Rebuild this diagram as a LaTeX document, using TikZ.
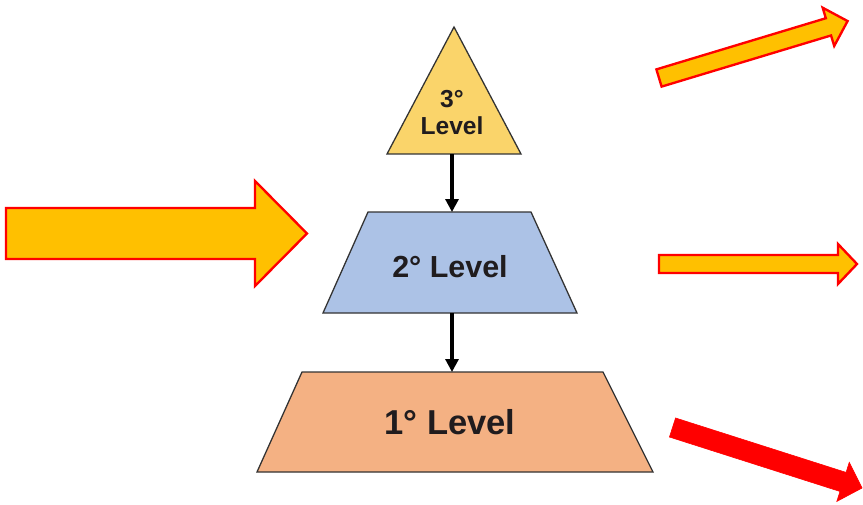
\documentclass[tikz,border=0pt]{standalone}
\usepackage{fontspec}
\setmainfont{Liberation Sans}
\usetikzlibrary{arrows.meta,shapes.geometric}
\definecolor{levelgold}{RGB}{250,212,106}
\definecolor{levelblue}{RGB}{172,194,230}
\definecolor{levelpeach}{RGB}{244,177,131}
\definecolor{amberfill}{RGB}{255,192,0}
\definecolor{edgered}{RGB}{255,0,0}
\definecolor{inkdark}{RGB}{32,28,30}

\begin{document}
\begin{tikzpicture}[
  x=0.03cm, y=-0.03cm,
  % ── level shapes ─────────────────────────────────────────────────────────
  apexlevel/.style={
    draw=black!80, line width=1.1pt, fill=levelgold,
    isosceles triangle, isosceles triangle stretches,
    shape border rotate=90, inner sep=2pt, outer sep=0pt
  },
  stepband/.style={
    draw=black!80, line width=1.1pt, line join=miter
  },
  levelname/.style={
    font=\bfseries, text=inkdark, inner sep=0pt
  },
  % down links between levels
  levellink/.style={
    draw=black, line width=2.6pt,
    -{Triangle[length=11pt,width=11pt]}
  },
  % block arrows at the sides
  amberarrow/.style={
    fill=amberfill, draw=edgered, line width=2pt, line join=miter
  },
  redarrow/.style={
    fill=edgered, draw=edgered, line width=0.5pt
  },
]

\useasboundingbox (0,0) rectangle (863,505);

% ── Levels ──────────────────────────────────────────────────────────────────
\node[apexlevel, minimum width=134*0.03cm, minimum height=127*0.03cm, anchor=south]
  (lvl3) at (454,154) {};
\node[levelname, font=\bfseries\fontsize{21pt}{23pt}\selectfont, align=center]
  (lvl3txt) at (452,113) {3°\\Level};

\draw[stepband, fill=levelblue]
  (323,313) -- (577,313) -- (531,212) -- (368,212) -- cycle;
\coordinate (lvl2top) at (452,212);
\coordinate (lvl2bot) at (452,313);
\node[levelname, font=\bfseries\fontsize{26pt}{28pt}\selectfont]
  (lvl2txt) at (450,267) {2° Level};

\draw[stepband, fill=levelpeach]
  (257,472) -- (653,472) -- (603,372) -- (302,372) -- cycle;
\coordinate (lvl1top) at (452,372);
\node[levelname, font=\bfseries\fontsize{29.5pt}{32pt}\selectfont]
  (lvl1txt) at (450,422) {1° Level};

% ── Links between levels ────────────────────────────────────────────────────
\draw[levellink] (lvl3.south -| lvl2top) -- (lvl2top);
\draw[levellink] (lvl2bot) -- (lvl1top);

% ── Side block arrows (tail x / tail y / angle / length / shaft / head / head length) ──
\foreach \tx/\ty/\ang/\len/\sw/\hw/\hl/\sty in {
    6/233.5/0/301/51/105/52/amberarrow,
    659/264/0/198/18/40/19/amberarrow,
    659/78/16.8/197/18/40/20/amberarrow,
    672.5/427.5/-17.7/199/20/41/20/redarrow}{
  \draw[\sty, shift={(\tx,\ty)}, rotate=\ang]
    (0,{-\sw/2}) -- ({\len-\hl},{-\sw/2}) -- ({\len-\hl},{-\hw/2})
    -- (\len,0) -- ({\len-\hl},{\hw/2}) -- ({\len-\hl},{\sw/2})
    -- (0,{\sw/2}) -- cycle;
}

\end{tikzpicture}
\end{document}
